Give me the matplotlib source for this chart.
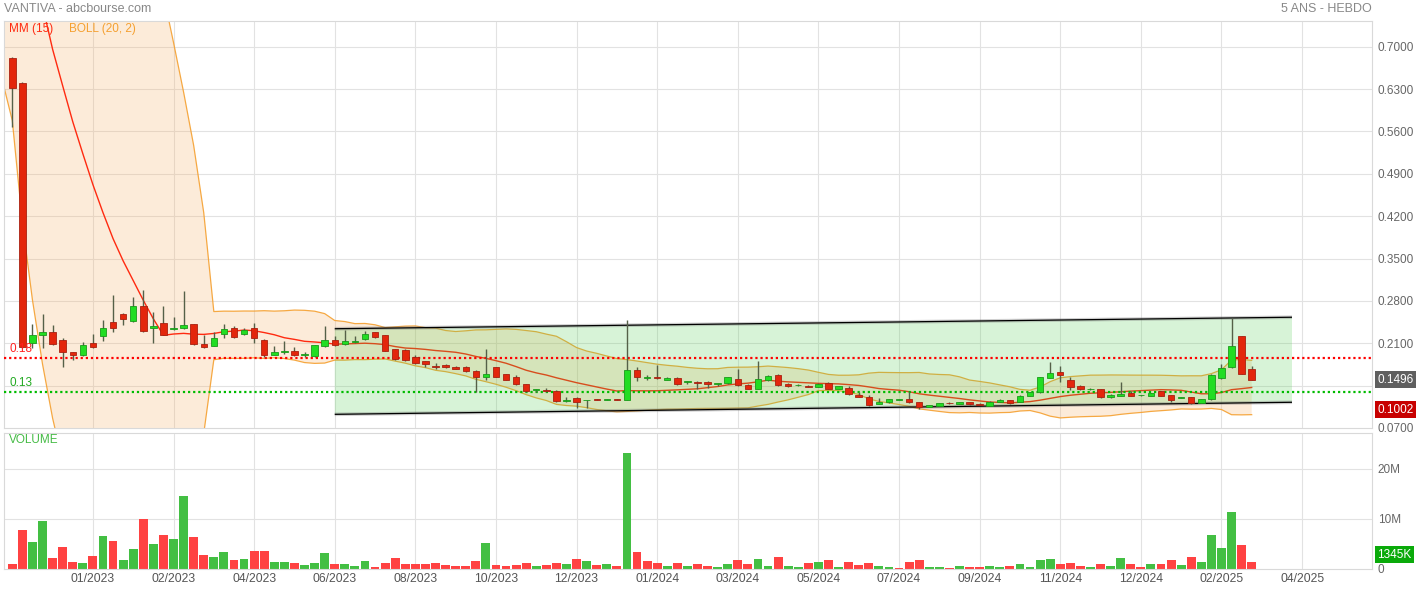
import numpy as np
import pandas as pd
import matplotlib
matplotlib.use("Agg")
import matplotlib.pyplot as plt
import matplotlib.transforms as mtransforms
from matplotlib.patches import Rectangle, Polygon

plt.rcParams['font.family'] = ['Liberation Sans', 'DejaVu Sans']

# ---- weekly data (one candle per week, first week 2022-11-07) ----
opens = [
    0.681, 0.640, 0.210, 0.223, 0.228, 0.215, 0.195, 0.190, 0.210, 0.222,
    0.245, 0.259, 0.246, 0.272, 0.236, 0.243, 0.234, 0.236, 0.241, 0.209,
    0.206, 0.225, 0.236, 0.225, 0.235, 0.215, 0.191, 0.195, 0.198, 0.1905,
    0.189, 0.205, 0.215, 0.208, 0.2125, 0.217, 0.228, 0.223, 0.200, 0.199,
    0.188, 0.180, 0.173, 0.174, 0.171, 0.170, 0.164, 0.155, 0.170, 0.159,
    0.155, 0.142, 0.1325, 0.1328, 0.131, 0.114, 0.120, 0.1158, 0.117, 0.1165,
    0.117, 0.117, 0.166, 0.152, 0.154, 0.150, 0.152, 0.146, 0.1465, 0.146,
    0.1425, 0.144, 0.1505, 0.1405, 0.135, 0.149, 0.157, 0.142, 0.1405, 0.1395,
    0.138, 0.1438, 0.135, 0.1356, 0.1245, 0.1207, 0.110, 0.1125, 0.1162, 0.118,
    0.1125, 0.105, 0.1063, 0.111, 0.1096, 0.1125, 0.109, 0.1063, 0.113, 0.1163,
    0.113, 0.1234, 0.129, 0.1531, 0.163, 0.149, 0.1394, 0.134, 0.134, 0.1207,
    0.1234, 0.1278, 0.1238, 0.1234, 0.1306, 0.1245, 0.1193, 0.1212, 0.1113, 0.1174,
    0.152, 0.170, 0.222, 0.167,
]
highs = [
    0.683, 0.641, 0.242, 0.258, 0.240, 0.218, 0.196, 0.212, 0.226, 0.248,
    0.290, 0.260, 0.286, 0.298, 0.262, 0.272, 0.254, 0.297, 0.242, 0.223,
    0.228, 0.242, 0.238, 0.236, 0.243, 0.217, 0.205, 0.213, 0.203, 0.196,
    0.207, 0.238, 0.222, 0.232, 0.222, 0.230, 0.229, 0.224, 0.201, 0.200,
    0.190, 0.181, 0.177, 0.175, 0.172, 0.172, 0.166, 0.200, 0.171, 0.160,
    0.157, 0.143, 0.135, 0.136, 0.133, 0.122, 0.122, 0.117, 0.1175, 0.118,
    0.1175, 0.248, 0.171, 0.158, 0.174, 0.155, 0.155, 0.148, 0.147, 0.147,
    0.145, 0.155, 0.1675, 0.143, 0.1807, 0.158, 0.160, 0.145, 0.1425, 0.1415,
    0.1445, 0.1458, 0.140, 0.1395, 0.1287, 0.124, 0.1195, 0.1185, 0.118, 0.1295,
    0.113, 0.108, 0.1115, 0.1125, 0.1135, 0.113, 0.1105, 0.115, 0.1175, 0.117,
    0.1245, 0.1295, 0.155, 0.1785, 0.173, 0.1538, 0.1405, 0.1365, 0.1345, 0.1255,
    0.146, 0.131, 0.125, 0.1285, 0.131, 0.125, 0.1205, 0.122, 0.1184, 0.159,
    0.1757, 0.251, 0.2225, 0.172,
]
lows = [
    0.568, 0.202, 0.202, 0.202, 0.207, 0.170, 0.183, 0.189, 0.202, 0.213,
    0.229, 0.240, 0.245, 0.229, 0.211, 0.223, 0.232, 0.233, 0.207, 0.202,
    0.205, 0.218, 0.219, 0.224, 0.211, 0.188, 0.190, 0.192, 0.189, 0.188,
    0.188, 0.204, 0.206, 0.207, 0.211, 0.216, 0.218, 0.197, 0.183, 0.180,
    0.176, 0.171, 0.168, 0.169, 0.167, 0.163, 0.129, 0.150, 0.154, 0.149,
    0.141, 0.129, 0.130, 0.130, 0.113, 0.113, 0.1025, 0.1025, 0.1155, 0.1158,
    0.1155, 0.116, 0.148, 0.1485, 0.151, 0.1485, 0.141, 0.1435, 0.135, 0.1355,
    0.139, 0.1435, 0.140, 0.134, 0.1345, 0.148, 0.1395, 0.137, 0.139, 0.1375,
    0.137, 0.1345, 0.1345, 0.1245, 0.1215, 0.107, 0.1095, 0.112, 0.1155, 0.112,
    0.1015, 0.1045, 0.106, 0.109, 0.109, 0.1085, 0.1085, 0.106, 0.1125, 0.109,
    0.1125, 0.123, 0.1285, 0.152, 0.146, 0.1325, 0.1335, 0.133, 0.120, 0.120,
    0.123, 0.123, 0.1235, 0.123, 0.123, 0.1135, 0.119, 0.110, 0.111, 0.116,
    0.1515, 0.1685, 0.159, 0.1485,
]
closes = [
    0.631, 0.203, 0.224, 0.228, 0.209, 0.195, 0.190, 0.207, 0.204, 0.236,
    0.235, 0.250, 0.272, 0.231, 0.239, 0.224, 0.235, 0.240, 0.208, 0.204,
    0.218, 0.233, 0.221, 0.232, 0.218, 0.190, 0.196, 0.198, 0.190, 0.1915,
    0.207, 0.215, 0.207, 0.213, 0.2135, 0.226, 0.221, 0.198, 0.184, 0.182,
    0.177, 0.175, 0.170, 0.170, 0.168, 0.164, 0.155, 0.160, 0.155, 0.150,
    0.142, 0.131, 0.133, 0.1306, 0.114, 0.117, 0.1135, 0.1162, 0.116, 0.117,
    0.116, 0.166, 0.155, 0.154, 0.152, 0.1526, 0.142, 0.1467, 0.144, 0.143,
    0.1435, 0.154, 0.1405, 0.135, 0.1505, 0.156, 0.1405, 0.139, 0.141, 0.1385,
    0.1427, 0.135, 0.1394, 0.1267, 0.122, 0.1075, 0.1135, 0.118, 0.1165, 0.1125,
    0.105, 0.108, 0.1108, 0.1105, 0.113, 0.109, 0.1088, 0.1125, 0.1163, 0.1108,
    0.1234, 0.129, 0.1538, 0.1604, 0.157, 0.138, 0.134, 0.1345, 0.1207, 0.1245,
    0.1262, 0.1234, 0.124, 0.1278, 0.1234, 0.1168, 0.1196, 0.1108, 0.1174, 0.157,
    0.1686, 0.205, 0.160, 0.1496,
]
# weekly volume, millions of shares
volumes_m = [
    1.0, 7.8, 5.4, 9.6, 2.2, 4.4, 1.4, 1.1, 2.6, 6.5,
    5.6, 1.8, 4.0, 10.0, 5.0, 6.8, 6.0, 14.5, 6.4, 2.8,
    2.3, 3.3, 1.7, 1.9, 3.5, 3.6, 1.3, 1.4, 1.1, 0.8,
    1.2, 3.1, 0.9, 1.0, 0.5, 1.6, 0.4, 1.2, 2.1, 0.9,
    0.9, 0.9, 1.1, 0.7, 0.5, 0.5, 1.5, 5.1, 0.7, 0.5,
    0.8, 1.1, 0.5, 0.8, 1.1, 1.0, 1.9, 1.5, 0.8, 1.0,
    0.6, 23.2, 3.4, 1.5, 1.2, 0.5, 1.2, 0.5, 1.0, 0.5,
    0.4, 1.0, 1.8, 1.0, 2.0, 0.5, 2.4, 0.5, 0.4, 1.1,
    1.3, 1.8, 0.4, 1.4, 0.8, 1.2, 0.6, 0.3, 0.2, 1.4,
    1.8, 0.4, 0.3, 0.2, 0.6, 0.3, 0.4, 0.5, 0.4, 0.6,
    1.0, 0.4, 1.8, 1.9, 1.0, 1.2, 0.6, 0.4, 0.9, 0.6,
    2.2, 1.0, 0.4, 1.0, 1.0, 1.8, 0.8, 2.4, 1.4, 6.7,
    4.2, 11.3, 4.7, 1.345,
]
# G = up week, R = down week (volume colouring)
volume_dir = ("RRGGRRRGRG" "RGGRGRGGRR" "GGRGRRGGRG" "GGRGGGRRRR" "RRRRRRRGRR"
              "RRGRRGRGRG" "RGRRRGRGRR" "GGRRGGRGGR" "GRGRRRGGRR" "RGGRGRRGGR"
              "GGGGRRRGRG" "GRRGRRGRGG" "GGRR")
# weekly closes preceding the first displayed week (warm-up for the indicators)
prior_closes = [1.28, 1.33, 1.30, 1.26, 1.31, 1.35, 1.29, 1.27, 1.32, 1.29,
                1.10, 1.08, 1.00, 0.97, 0.93, 0.88, 0.80, 0.76, 0.72, 0.70]

tick_weeks = [8, 16, 24, 32, 40, 48, 56, 64, 72, 80, 88, 96, 104, 112, 120, 128]
tick_labels = ["01/2023", "02/2023", "04/2023", "06/2023", "08/2023", "10/2023",
               "12/2023", "01/2024", "03/2024", "05/2024", "07/2024", "09/2024",
               "11/2024", "12/2024", "02/2025", "04/2025"]
price_ticks = [0.07, 0.14, 0.21, 0.28, 0.35, 0.42, 0.49, 0.56, 0.63, 0.70]
hidden_price_tick = 0.14
volume_ticks = [0, 10, 20]
volume_tick_labels = ["0", "10M", "20M"]

# trend channel drawn by hand on the chart
channel_weeks = [32, 127]
channel_top = [0.234, 0.253]
channel_bottom = [0.0926, 0.1125]
# horizontal levels
resistance = 0.185
support = 0.13
marker_price = 0.1002

# ---- figure layout (pixel based) ----
W, H = 1421, 590
fig = plt.figure(figsize=(W / 100, H / 100), dpi=100)
fig.patch.set_facecolor("white")


def rect(x0, y0, x1, y1):
    return [x0 / W, 1 - y1 / H, (x1 - x0) / W, (y1 - y0) / H]


ax = fig.add_axes(rect(4, 21, 1372, 428))
axv = fig.add_axes(rect(4, 432.5, 1372, 568.5), sharex=ax)

n = len(closes)
idx = np.arange(n)
XMIN, XMAX = -0.824, 134.94
ax.set_xlim(XMIN, XMAX)
ax.set_ylim(0.07, 0.7424)
axv.set_ylim(0, 27.2)

GRID = "#e2e2e2"
for a in (ax, axv):
    a.set_facecolor("white")
    for s in a.spines.values():
        s.set_color("#d9d9d9")
        s.set_linewidth(0.8)
    for w in tick_weeks:
        a.axvline(w, color=GRID, lw=0.8, zorder=0)
for p in price_ticks[1:]:
    ax.axhline(p, color=GRID, lw=0.8, zorder=0)
for v in volume_ticks[1:]:
    axv.axhline(v, color=GRID, lw=0.8, zorder=0)

# ---- indicators ----
all_close = pd.Series(prior_closes + closes, dtype=float)
xi = np.arange(len(all_close)) - len(prior_closes)
ma15 = all_close.rolling(15).mean()
mid20 = all_close.rolling(20).mean()
sd20 = all_close.rolling(20).std(ddof=0)
up = mid20 + 2 * sd20
lo = mid20 - 2 * sd20
ok = ~up.isna().values
ax.fill_between(xi[ok], lo[ok], up[ok], color="#f7b26a", alpha=0.25, lw=0, zorder=1)
ax.plot(xi[ok], up[ok], color="#f5a030", lw=0.9, alpha=0.9, zorder=2)
ax.plot(xi[ok], lo[ok], color="#f5a030", lw=0.9, alpha=0.9, zorder=2)
okm = ~ma15.isna().values
ax.plot(xi[okm], ma15[okm], color="#ff2a10", lw=1.0, zorder=2.5)

# ---- channel ----
poly = Polygon([(channel_weeks[0], channel_top[0]), (channel_weeks[1], channel_top[1]),
                (channel_weeks[1], channel_bottom[1]), (channel_weeks[0], channel_bottom[0])],
               closed=True, fc="#4ccc4c", alpha=0.22, ec="none", zorder=3)
ax.add_patch(poly)
for yy in (channel_top, channel_bottom):
    ax.plot(channel_weeks, yy, color="#777777", lw=2.6, alpha=0.35, zorder=3.1,
            solid_capstyle="butt")
    ax.plot(channel_weeks, yy, color="black", lw=0.9, zorder=3.2, solid_capstyle="butt")

# ---- horizontal levels ----
ax.axhline(resistance, color="#ff0000", lw=1.6, ls=(0, (1, 1.3)), zorder=4)
ax.axhline(support, color="#00bb00", lw=1.6, ls=(0, (1, 1.3)), zorder=4)


def trunc2(v):
    return f"{np.floor(v * 100 + 1e-9) / 100:.2f}"


ax.annotate(trunc2(resistance), xy=(0, resistance), xycoords=ax.get_yaxis_transform(),
            xytext=(5, 9), textcoords="offset pixels", va="center", ha="left",
            color="#ff2020", fontsize=8.5, zorder=6)
ax.annotate(trunc2(support), xy=(0, support), xycoords=ax.get_yaxis_transform(),
            xytext=(5, 9), textcoords="offset pixels", va="center", ha="left",
            color="#22aa22", fontsize=8.5, zorder=6)

# ---- candles ----
BODY_W = 0.64
for i in range(n):
    o, h, l, c = opens[i], highs[i], lows[i], closes[i]
    upc = c >= o
    face = "#22dd22" if upc else "#e3260c"
    edge = "#1a9a1a" if upc else "#a82010"
    ax.plot([i, i], [l, h], color="#556048", lw=1.0, zorder=5, solid_capstyle="butt")
    bottom = min(o, c)
    height = max(abs(c - o), 0.0012)
    ax.add_patch(Rectangle((i - BODY_W / 2, bottom), BODY_W, height,
                           fc=face, ec=edge, lw=0.6, zorder=5.5))

# ---- volume ----
vcols = ["#43bf43" if d == "G" else "#ff4242" for d in volume_dir]
axv.bar(idx, volumes_m, width=0.88, color=vcols, lw=0, zorder=2)

# ---- axes ticks ----
ax.yaxis.tick_right()
ax.set_yticks(price_ticks)
ax.set_yticklabels(["" if abs(p - hidden_price_tick) < 1e-9 else f"{p:.4f}" for p in price_ticks])
ax.tick_params(axis="y", length=0, pad=4, labelsize=8.5, labelcolor="#666666")
ax.tick_params(axis="x", length=0, labelbottom=False)

axv.yaxis.tick_right()
axv.set_yticks(volume_ticks)
axv.set_yticklabels(volume_tick_labels)
axv.tick_params(axis="y", length=0, pad=4, labelsize=8.5, labelcolor="#666666")
axv.set_xticks(tick_weeks)
axv.set_xticklabels(tick_labels)
axv.tick_params(axis="x", length=0, pad=3, labelsize=8.7, labelcolor="#555555")

# ---- value tags on the right axis ----
def tag(a, value, text, fc, dy_px=0):
    tr = mtransforms.offset_copy(a.get_yaxis_transform(), fig=fig, x=5, y=dy_px, units="dots")
    a.text(1.0, value, text, transform=tr, ha="left", va="center", fontsize=8.5,
           color="white", clip_on=False, zorder=10,
           bbox=dict(boxstyle="square,pad=0.2", fc=fc, ec="none"))


tag(ax, closes[-1], f"{closes[-1]:.4f}", "#5f5f5f")
tag(ax, marker_price, f"{marker_price:.4f}", "#c80000")
tag(axv, volumes_m[-1], f"{int(round(volumes_m[-1] * 1000))}K", "#0aaa0a", dy_px=7)

# ---- titles and legends ----
def ftext(x, y, s, **kw):
    fig.text(x / W, 1 - y / H, s, **kw)


ftext(4, 9, "VANTIVA - abcbourse.com", ha="left", va="center", fontsize=9, color="#888888")
ftext(1372, 9, "5 ANS - HEBDO", ha="right", va="center", fontsize=9, color="#888888")
ftext(9, 29, "MM (15)", ha="left", va="center", fontsize=8.5, color="#ff2a10")
ftext(69, 29, "BOLL (20, 2)", ha="left", va="center", fontsize=8.5, color="#f5a030")
ftext(9, 440, "VOLUME", ha="left", va="center", fontsize=8.5, color="#44bb44")

fig.savefig("out.png", dpi=100, facecolor="white")
